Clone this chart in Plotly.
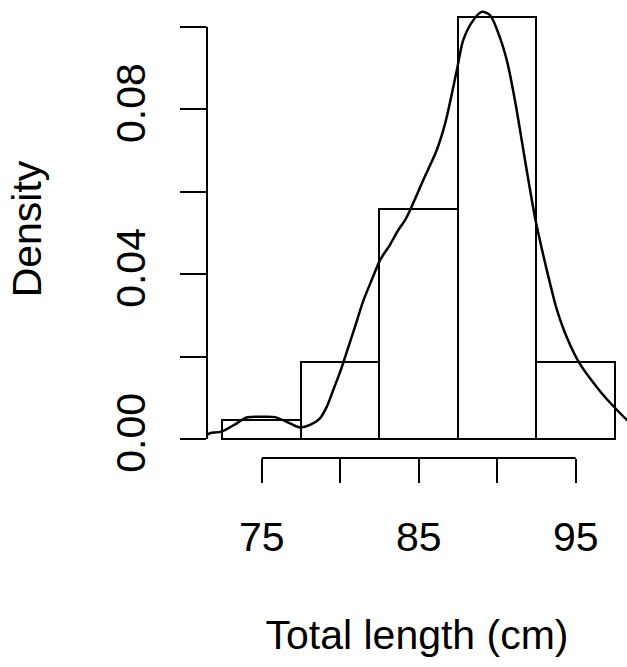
import plotly.graph_objects as go

# Histogram (bin midpoints, bin width, counts)
bin_mids = [75, 80, 85, 90, 95]
bin_width = 5
counts = [1, 4, 12, 22, 4]
n_total = sum(counts)
densities = [c / (n_total * bin_width) for c in counts]

# Kernel density curve
dens_x = [71.50, 71.71, 72.45, 73.24, 74.04, 75.00, 75.85, 76.80, 77.44, 78.08, 78.71,
          79.14, 79.56, 79.99, 80.20, 80.94, 81.47, 82.01, 82.54, 83.17, 83.70, 84.13,
          84.45, 85.29, 86.15, 86.68, 87.42, 87.84, 88.48, 89.01, 89.54, 90.18, 90.61,
          90.82, 91.24, 91.56, 91.88, 92.42, 92.94, 93.36, 93.79, 94.43, 95.27,
          96.55, 97.39, 98.27, 98.60]
dens_y = [0.0010, 0.0014, 0.0018, 0.0034, 0.0052, 0.0054, 0.0053, 0.0038, 0.0028, 0.0034, 0.0050,
          0.0078, 0.0119, 0.0162, 0.0186, 0.0272, 0.0335, 0.0386, 0.0434, 0.0471, 0.0507, 0.0531,
          0.0555, 0.0628, 0.0701, 0.0765, 0.0893, 0.0968, 0.1016, 0.1036, 0.1028, 0.0973, 0.0919,
          0.0883, 0.0798, 0.0725, 0.0652, 0.0535, 0.0445, 0.0378, 0.0315, 0.0247, 0.0182,
          0.0116, 0.0080, 0.0046, 0.0036]

x_ticks = [75, 80, 85, 90, 95]
x_ticktext = ["75", "", "85", "", "95"]
y_ticks = [0.00, 0.02, 0.04, 0.06, 0.08, 0.10]
y_ticktext = ["0.00", "", "0.04", "", "0.08", ""]

FONT = "Liberation Sans, Arial, sans-serif"
FS = 41

fig = go.Figure()
fig.add_trace(go.Bar(
    x=bin_mids, y=densities, width=[bin_width] * len(bin_mids),
    marker=dict(color="white", line=dict(color="black", width=2)),
    hoverinfo="skip", showlegend=False,
))
fig.add_trace(go.Scatter(
    x=dens_x, y=dens_y, mode="lines",
    line=dict(color="black", width=2.5, shape="spline", smoothing=0.8),
    hoverinfo="skip", showlegend=False,
))

# R-style axis lines (only spanning the tick range)
fig.add_shape(type="line", xref="paper", yref="y", x0=0, x1=0, y0=y_ticks[0], y1=y_ticks[-1],
              line=dict(color="black", width=2))
fig.add_shape(type="line", xref="x", yref="paper", x0=x_ticks[0], x1=x_ticks[-1], y0=0, y1=0,
              line=dict(color="black", width=2))

fig.update_layout(
    width=627, height=667,
    margin=dict(l=207, r=0, t=0, b=209),
    plot_bgcolor="white", paper_bgcolor="white",
    font=dict(family=FONT, size=FS, color="black"),
    bargap=0,
    xaxis=dict(
        range=[71.516, 98.267], showgrid=False, zeroline=False, showline=False,
        tickmode="array", tickvals=x_ticks, ticktext=x_ticktext,
        ticks="outside", ticklen=24, tickwidth=2, tickcolor="black",
        ticklabelstandoff=19,
        tickfont=dict(family=FONT, size=FS),
        title=dict(text="Total length (cm)", font=dict(family=FONT, size=FS), standoff=61),
    ),
    yaxis=dict(
        range=[-0.00461, 0.10648], showgrid=False, zeroline=False, showline=False,
        tickmode="array", tickvals=y_ticks, ticktext=y_ticktext,
        ticks="outside", ticklen=26, tickwidth=2, tickcolor="black",
        tickangle=-90, ticklabelstandoff=19,
        tickfont=dict(family=FONT, size=FS),
        title=dict(text="Density", font=dict(family=FONT, size=FS), standoff=53),
    ),
)

fig.write_html("out.html")
